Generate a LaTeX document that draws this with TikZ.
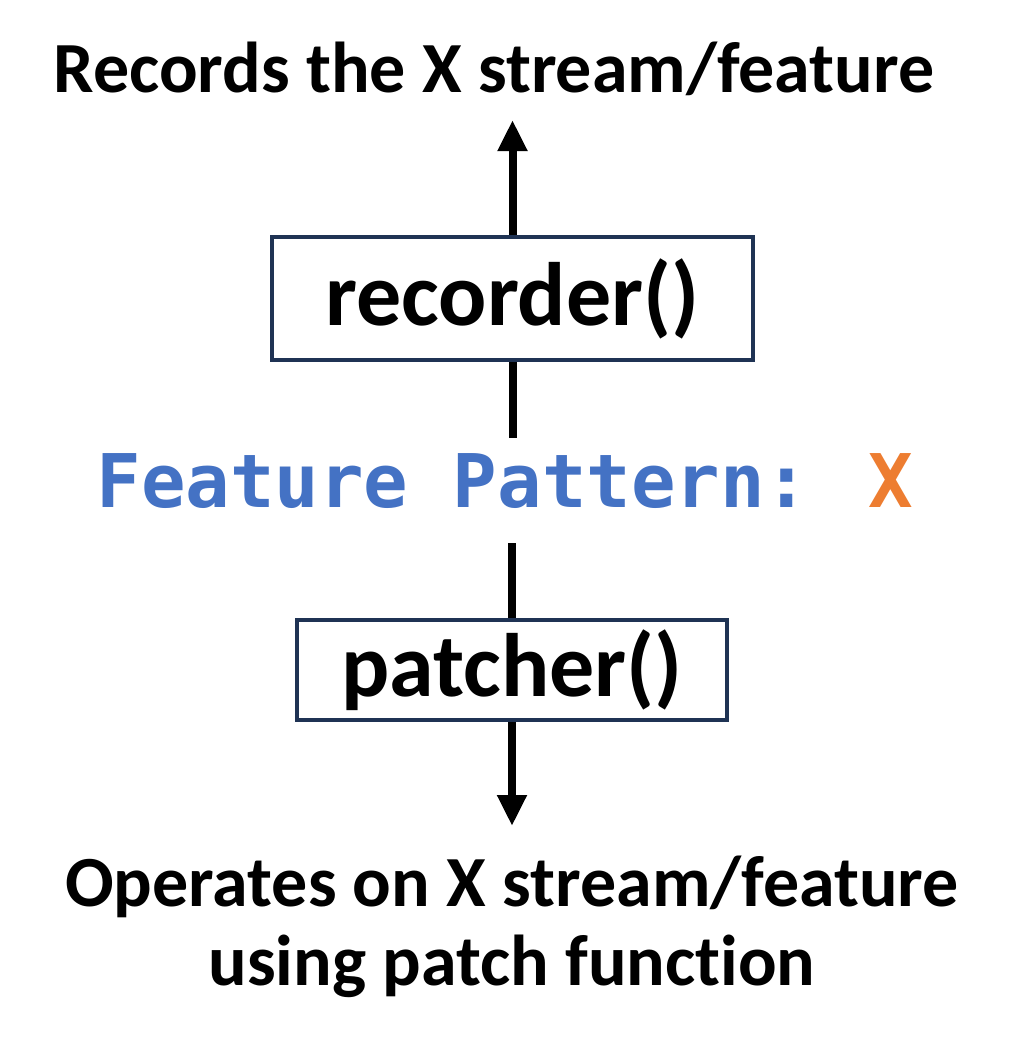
\documentclass[tikz,border=0pt]{standalone}
\usepackage{fontspec}
\setmainfont{Carlito}[Ligatures={NoCommon}]
\newfontfamily\codefont{DejaVu Sans Mono}
\usetikzlibrary{arrows.meta}
\definecolor{boxline}{HTML}{1F3354}
\definecolor{codeblue}{HTML}{4472C4}
\definecolor{codeorange}{HTML}{ED7D31}
\tikzset{
  caption/.style={font=\bfseries\fontsize{72}{79}\selectfont, align=center, inner sep=0pt},
  funcbox/.style={draw=boxline, line width=4.5pt, font=\bfseries\fontsize{90}{90}\selectfont, inner sep=0pt},
  flow/.style={line width=8pt},
  flowarrow/.style={line width=8pt, -{Triangle[width=28pt,length=31pt]}},
}
\begin{document}
\begin{tikzpicture}[x=1pt,y=-1pt]
\useasboundingbox (0,0) rectangle (1029,1053);
\node[caption, anchor=base] (title) at (494,92) {Records the X stream/feature};
\node[funcbox, minimum width=481pt, minimum height=123pt] (rec) at (512.5,298.5) {recorder()};
\node[font=\codefont\bfseries\fontsize{74}{80}\selectfont, anchor=base, inner xsep=0pt, inner ysep=14pt, text height=55pt, text depth=22pt] (feat) at (505,507) {\textcolor{codeblue}{Feature Pattern:} \textcolor{codeorange}{X}};
\node[funcbox, minimum width=430pt, minimum height=100pt] (pat) at (512,670) {patcher()};
\node[caption, anchor=north] (bot) at (512,856) {Operates on X stream/feature\\using patch function};
\coordinate (uptip) at (512.5,120);
\coordinate (downtip) at (512,826);
\draw[flowarrow] (rec.north) -- (uptip);
\draw[flow] (rec.south) -- (rec.south |- feat.north);
\draw[flow] (pat.north |- feat.south) -- (pat.north);
\draw[flowarrow] (pat.south) -- (downtip);
\end{tikzpicture}
\end{document}
